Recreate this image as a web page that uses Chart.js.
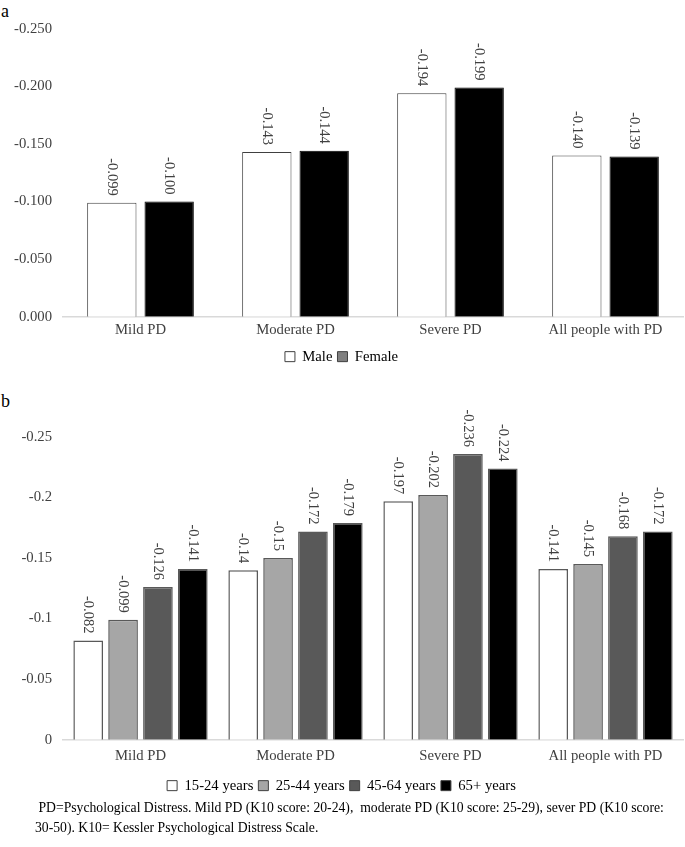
<!DOCTYPE html>
<html>
<head>
<meta charset="utf-8">
<script src="https://cdn.jsdelivr.net/npm/chart.js@4.4.1/dist/chart.umd.min.js"></script>
<style>
  html, body { margin: 0; padding: 0; background: #ffffff; }
  body { width: 685px; height: 847px; position: relative; overflow: hidden; font-family: "Liberation Serif", "Times New Roman", serif; }
  .panel-letter { position: absolute; left: 1px; font-size: 18px; color: #000; line-height: 18px; }
  .box { position: absolute; left: 0; width: 705px; }
  .note { position: absolute; left: 35px; top: 798px; width: 650px; font-size: 13.7px; line-height: 20px; color: #000; white-space: pre; }
</style>
</head>
<body>
<div class="panel-letter" style="top:2px;">a</div>
<div class="box" style="top:9px;height:365px;"><canvas id="chartA"></canvas></div>
<div class="panel-letter" style="top:392px;">b</div>
<div class="box" style="top:395px;height:408px;"><canvas id="chartB"></canvas></div>
<div class="note"> PD=Psychological Distress. Mild PD (K10 score: 20-24),  moderate PD (K10 score: 25-29), sever PD (K10 score:
30-50). K10= Kessler Psychological Distress Scale.</div>
<script>
// ---------- DATA ----------
const categories = ["Mild PD", "Moderate PD", "Severe PD", "All people with PD"];

// Panel a (by sex)
const sexSeries = ["Male", "Female"];
const maleValues = [-0.099, -0.143, -0.194, -0.140];
const femaleValues = [-0.100, -0.144, -0.199, -0.139];
const ticksA = [-0.25, -0.2, -0.15, -0.1, -0.05, 0];

// Panel b (by age)
const ageSeries = ["15-24 years", "25-44 years", "45-64 years", "65+ years"];
const age15to24 = [-0.082, -0.14, -0.197, -0.141];
const age25to44 = [-0.099, -0.15, -0.202, -0.145];
const age45to64 = [-0.126, -0.172, -0.236, -0.168];
const age65plus = [-0.141, -0.179, -0.224, -0.172];
const ticksB = [-0.25, -0.2, -0.15, -0.1, -0.05, 0];

// ---------- STYLE ----------
const FONT = "'Liberation Serif', 'Times New Roman', serif";
const TEXT = "#404040";

const barLabelPlugin = {
  id: 'barLabels',
  afterDatasetsDraw(chart, args, opts) {
    const ctx = chart.ctx;
    ctx.save();
    ctx.font = (opts.size || 14.5) + "px " + FONT;
    ctx.fillStyle = opts.color || TEXT;
    ctx.textAlign = 'right';
    ctx.textBaseline = 'middle';
    chart.data.datasets.forEach((ds, di) => {
      const meta = chart.getDatasetMeta(di);
      meta.data.forEach((el, i) => {
        const txt = opts.format(ds.data[i]);
        ctx.save();
        ctx.translate(el.x, el.y - 7);
        ctx.rotate(Math.PI / 2);
        ctx.fillText(txt, 0, 0);
        ctx.restore();
      });
    });
    ctx.restore();
  }
};

function makeOptions(tickValues, tickFmt, labelFmt, legendLabels, catPct, barPct, padTop, xPad) {
  return {
    responsive: true,
    maintainAspectRatio: false,
    datasets: { bar: { categoryPercentage: catPct, barPercentage: barPct } },
    layout: { padding: { left: 0, right: 22, top: padTop, bottom: 0 } },
    scales: {
      x: {
        grid: { display: false, drawTicks: false },
        border: { display: true, color: '#d9d9d9', width: 1.5 },
        ticks: { font: { size: 14.7, family: FONT }, color: TEXT, padding: xPad, maxRotation: 0 }
      },
      y: {
        reverse: true,
        min: tickValues[0],
        max: tickValues[tickValues.length - 1],
        grid: { display: false, drawTicks: false },
        border: { display: false },
        afterBuildTicks(scale) { scale.ticks = tickValues.map(v => ({ value: v })); },
        afterFit(scale) { scale.width = 63; },
        ticks: { font: { size: 14.7, family: FONT }, color: TEXT, padding: 11, callback: tickFmt }
      }
    },
    plugins: {
      legend: {
        position: 'bottom',
        labels: {
          boxWidth: 10, boxHeight: 10, padding: 5,
          font: { size: 14.7, family: FONT }, color: TEXT,
          generateLabels: () => legendLabels
        }
      },
      tooltip: { enabled: false },
      barLabels: { format: labelFmt, size: 14.5 }
    }
  };
}

function build() {
  Chart.defaults.font.family = FONT;
  Chart.defaults.color = TEXT;
  Chart.defaults.animation = false;

  // Panel a
  new Chart(document.getElementById('chartA'), {
    type: 'bar',
    data: {
      labels: categories,
      datasets: [
        { label: sexSeries[0], data: maleValues, backgroundColor: '#ffffff', borderColor: '#404040', borderWidth: 1 },
        { label: sexSeries[1], data: femaleValues, backgroundColor: '#000000', borderColor: '#000000', borderWidth: 1 }
      ]
    },
    options: makeOptions(
      ticksA,
      v => Number(v).toFixed(3),
      v => v.toFixed(3),
      [
        { text: sexSeries[0], fillStyle: '#ffffff', strokeStyle: '#404040', lineWidth: 1, datasetIndex: 0 },
        { text: sexSeries[1], fillStyle: '#808080', strokeStyle: '#404040', lineWidth: 1, datasetIndex: 1 }
      ],
      0.74, 0.86, 0, 5
    ),
    plugins: [barLabelPlugin]
  });

  // Panel b
  const ageFills = ['#ffffff', '#a6a6a6', '#595959', '#000000'];
  const ageData = [age15to24, age25to44, age45to64, age65plus];
  new Chart(document.getElementById('chartB'), {
    type: 'bar',
    data: {
      labels: categories,
      datasets: ageSeries.map((name, i) => ({
        label: name, data: ageData[i], backgroundColor: ageFills[i],
        borderColor: '#595959', borderWidth: 1.5
      }))
    },
    options: makeOptions(
      ticksB,
      v => String(parseFloat(Number(v).toFixed(2))),
      v => String(v),
      ageSeries.map((name, i) => ({ text: name, fillStyle: ageFills[i], strokeStyle: '#404040', lineWidth: 1, datasetIndex: i })),
      0.9, 0.85, 42, 8
    ),
    plugins: [barLabelPlugin]
  });
}

const fontLoads = (document.fonts && document.fonts.load)
  ? Promise.all([
      document.fonts.load("15px 'Liberation Serif'")
    ]).catch(() => null)
  : Promise.resolve();
fontLoads.then(build, build);
</script>
</body>
</html>
